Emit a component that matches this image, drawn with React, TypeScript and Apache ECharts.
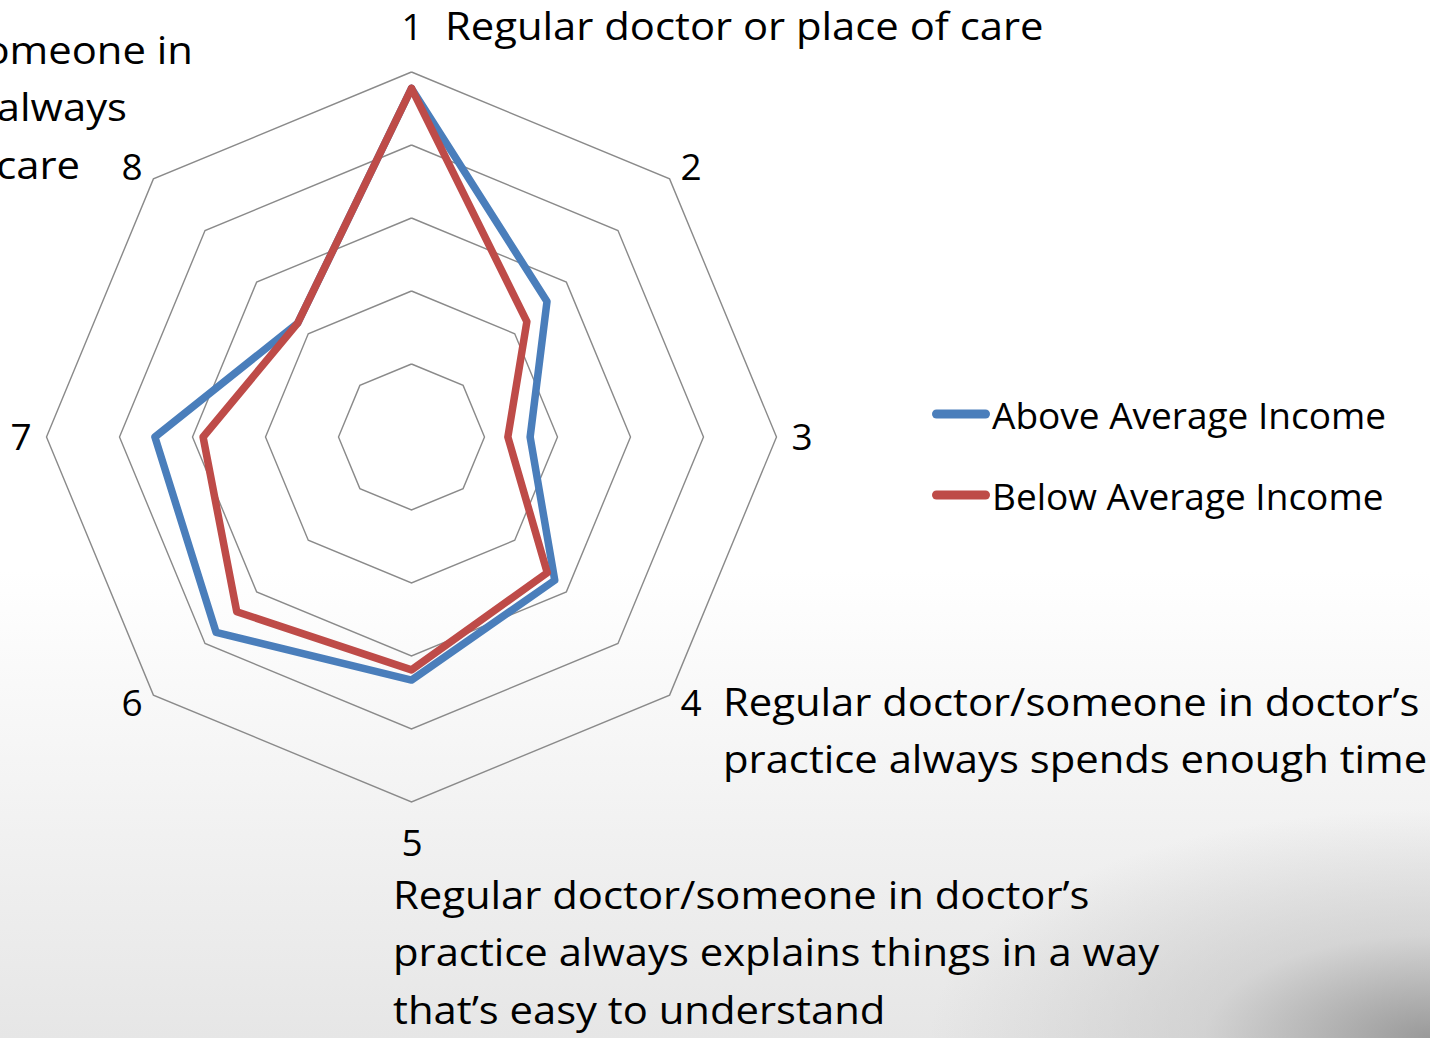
import React, { useEffect, useRef } from 'react';
import * as echarts from 'echarts';

// ---- data ----
const categories = ['1', '2', '3', '4', '5', '6', '7', '8'];
const seriesNames = ['Above Average Income', 'Below Average Income'];
const aboveAverage = [95.5, 52.5, 32.5, 55.5, 66.6, 75.7, 70.3, 44.1];
const belowAverage = [95.5, 44.7, 26.4, 52.6, 63.8, 67.7, 57.1, 44.1];
const axisMax = 100;

const label1 = ['Regular doctor or place of care'];
const label4 = ["Regular doctor/someone in doctor\u2019s", 'practice always spends enough time'];
const label5 = [
  "Regular doctor/someone in doctor\u2019s",
  'practice always explains things in a way',
  'that\u2019s easy to understand',
];
const label8 = ['Regular doctor/someone in', "doctor\u2019s practice always", 'care'];

const BLUE = '#4A7EBB';
const RED = '#BE4B48';
const FONT_FAMILY = '"Open Sans", "Noto Sans", sans-serif';
const FONT_SIZE = 37;
const LABEL_FONT_SIZE = 39;
const LABEL_SCALE_X = 1.072;

// ECharts lays radar indicators out counter-clockwise; the reference goes clockwise.
const clockwiseOrder = [0, 7, 6, 5, 4, 3, 2, 1];
const reorder = (arr: number[]) => clockwiseOrder.map((i) => arr[i]);

function txt(
  text: string,
  x: number,
  y: number,
  align: 'left' | 'center' | 'right',
  size: number,
  scaleX: number
) {
  return {
    type: 'text',
    x,
    y,
    scaleX,
    silent: true,
    style: {
      text,
      fill: '#000',
      font: `${size}px ${FONT_FAMILY}`,
      align,
      verticalAlign: 'middle',
    },
  };
}

export default function App() {
  const ref = useRef<HTMLDivElement>(null);

  useEffect(() => {
    if (!ref.current) return;
    const chart = echarts.init(ref.current, null, { renderer: 'svg' });

    const cx = 411.5;
    const cy = 437;
    const lineGap = 57.5;

    const graphics: any[] = [];
    // axis numbers
    const numPos: [number, number][] = [
      [412, 25],
      [691, 165],
      [802, 435],
      [691, 701],
      [412, 841],
      [132, 701],
      [21, 435],
      [132, 165],
    ];
    categories.forEach((c, i) => {
      graphics.push(txt(c, numPos[i][0], numPos[i][1], 'center', FONT_SIZE, 1));
    });
    label1.forEach((t, i) =>
      graphics.push(txt(t, 445, 25 + i * lineGap, 'left', LABEL_FONT_SIZE, LABEL_SCALE_X))
    );
    label4.forEach((t, i) =>
      graphics.push(txt(t, 723, 701 + i * lineGap, 'left', LABEL_FONT_SIZE, LABEL_SCALE_X))
    );
    label5.forEach((t, i) =>
      graphics.push(txt(t, 393, 894 + i * lineGap, 'left', LABEL_FONT_SIZE, LABEL_SCALE_X))
    );
    const label8Right = [193, 127, 80];
    label8.forEach((t, i) =>
      graphics.push(
        txt(t, label8Right[i], 49 + i * lineGap, 'right', LABEL_FONT_SIZE, LABEL_SCALE_X)
      )
    );

    const option: any = {
      animation: false,
      backgroundColor: 'transparent',
      legend: {
        orient: 'vertical',
        left: 932,
        top: 392,
        padding: 0,
        itemWidth: 58,
        itemHeight: 9,
        itemGap: 37,
        icon: 'path://M4.5,0 L53.5,0 A4.5,4.5 0 0 1 53.5,9 L4.5,9 A4.5,4.5 0 0 1 4.5,0 Z',
        itemStyle: { borderWidth: 0 },
        textStyle: {
          fontSize: FONT_SIZE,
          fontFamily: FONT_FAMILY,
          color: '#000',
          lineHeight: 44,
          padding: [0, 0, 0, -3],
        },
        data: seriesNames,
        selectedMode: false,
      },
      radar: {
        center: [cx, cy],
        radius: 365,
        startAngle: 90,
        shape: 'polygon',
        splitNumber: 5,
        indicator: clockwiseOrder.map((i) => ({ name: categories[i], min: 0, max: axisMax })),
        axisName: { show: false },
        axisLine: { show: false },
        axisTick: { show: false },
        axisLabel: { show: false },
        splitArea: { show: false },
        splitLine: { lineStyle: { color: '#8A8A8A', width: 1.4 } },
      },
      series: [
        {
          type: 'radar',
          symbol: 'none',
          data: [
            {
              name: seriesNames[0],
              value: reorder(aboveAverage),
              lineStyle: { color: BLUE, width: 7.5, join: 'round', cap: 'round' },
              itemStyle: { color: BLUE },
            },
            {
              name: seriesNames[1],
              value: reorder(belowAverage),
              lineStyle: { color: RED, width: 7.5, join: 'round', cap: 'round' },
              itemStyle: { color: RED },
            },
          ],
        },
      ],
      graphic: graphics,
    };

    chart.setOption(option);
    return () => chart.dispose();
  }, []);

  return (
    <div
      style={{
        position: 'fixed',
        left: 0,
        top: 0,
        width: 1430,
        height: 1038,
        overflow: 'hidden',
        background:
          'radial-gradient(ellipse 35% 22% at 100% 100%, rgba(140,140,140,0.85) 0%, rgba(190,190,190,0.5) 45%, rgba(255,255,255,0) 100%), linear-gradient(to bottom, #ffffff 0%, #ffffff 55%, #f4f4f4 75%, #e6e6e6 100%)',
      }}
    >
      <div ref={ref} style={{ width: 1430, height: 1038 }} />
    </div>
  );
}
